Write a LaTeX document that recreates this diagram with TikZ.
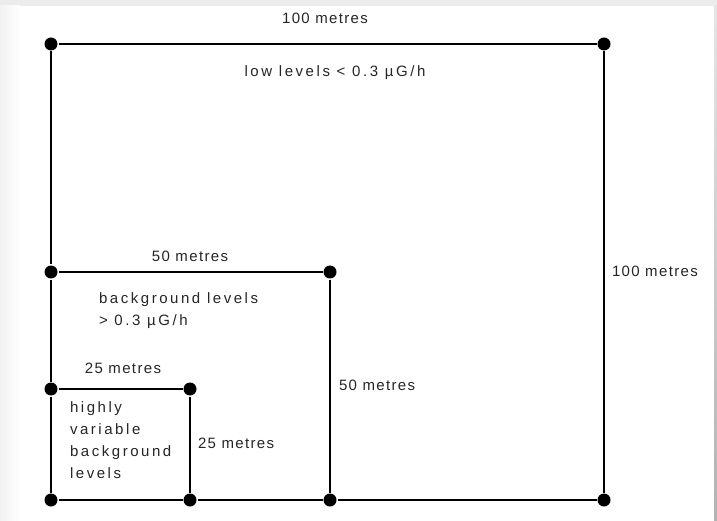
\documentclass[tikz,border=0pt]{standalone}
\usepackage{fontspec}
\setmainfont{Liberation Sans}
\usepackage{tikz}

\tikzset{
  corner/.style = {circle, fill=black, inner sep=0pt, minimum size=13pt},
  side/.style = {font=\fontsize{15}{18}\selectfont\addfontfeatures{LetterSpace=9}, text=black!85, inner sep=0pt},
  zone/.style = {font=\fontsize{15}{22}\selectfont\addfontfeatures{LetterSpace=17}, text=black!85, inner sep=0pt, align=left}
}

\begin{document}
\begin{tikzpicture}[x=1pt, y=-1pt, line width=2pt]
      % frame round the picture
      \fill[gray!15] (0,0) rectangle (717,521);
      \shade[left color=gray!10, right color=white] (0,6) rectangle (20,521);
      \shade[top color=gray!20, bottom color=gray!60] (714,6) rectangle (717,521);
      \fill[white] (20,6) rectangle (714,521);
      \useasboundingbox (0,0) rectangle (717,521);

      % corners
      \node[corner] (TL) at (51,44) {};
      \node[corner] (TR) at (604,44) {};
      \node[corner] (BR) at (604,500) {};
      \node[corner] (BL) at (51,500) {};
      \node[corner] (ML) at (51,272) {};
      \node[corner] (MR) at (330,272) {};
      \node[corner] (MB) at (330,500) {};
      \node[corner] (SL) at (51,389) {};
      \node[corner] (SR) at (190,389) {};
      \node[corner] (SB) at (190,500) {};

      % squares
      \draw (TL) -- (TR);
      \draw (TR) -- (BR);
      \draw (BR) -- (MB);
      \draw (MB) -- (SB);
      \draw (SB) -- (BL);
      \draw (BL) -- (SL);
      \draw (SL) -- (ML);
      \draw (ML) -- (TL);
      \draw (ML) -- (MR);
      \draw (MR) -- (MB);
      \draw (SL) -- (SR);
      \draw (SR) -- (SB);

      % sizes
      \node[side] (top100) at (325,18) {100 metres};
      \node[side, anchor=west] (right100) at (611,271) {100 metres};
      \node[side] (top50) at (190,256) {50 metres};
      \node[side, anchor=west] (right50) at (338,385) {50 metres};
      \node[side] (top25) at (123,368) {25 metres};
      \node[side, anchor=west] (right25) at (197,443) {25 metres};

      % levels
      \node[zone] (low) at (335,73) {low levels < 0.3 µG/h};
      \node[zone, anchor=north west] (back) at (98,292) {background levels\\> 0.3 µG/h};
      \node[zone, anchor=north west] (high) at (69,401) {highly\\variable\\background\\levels};
\end{tikzpicture}
\end{document}
